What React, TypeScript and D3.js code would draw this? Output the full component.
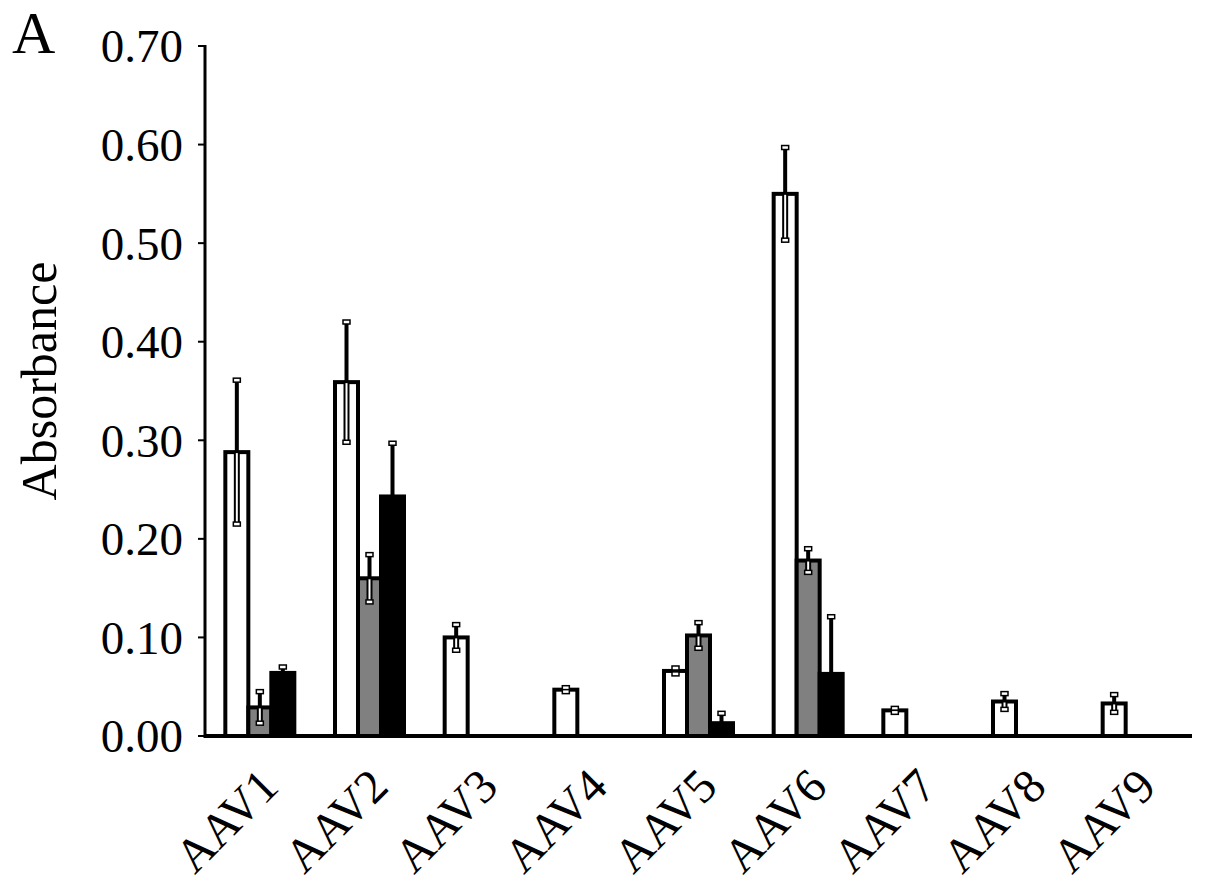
import React from "react";
import * as d3 from "d3";

const categories = ["AAV1", "AAV2", "AAV3", "AAV4", "AAV5", "AAV6", "AAV7", "AAV8", "AAV9"];
const seriesNames = ["white", "gray", "black"];
const whiteValues = [0.288, 0.359, 0.1, 0.047, 0.066, 0.55, 0.026, 0.035, 0.033];
const whiteErrors = [0.073, 0.061, 0.013, 0.002, 0.003, 0.047, 0.002, 0.008, 0.009];
const grayValues: (number | null)[] = [0.029, 0.16, null, null, 0.102, 0.178, null, null, null];
const grayErrors: (number | null)[] = [0.016, 0.024, null, null, 0.013, 0.012, null, null, null];
const blackValues: (number | null)[] = [0.064, 0.243, null, null, 0.013, 0.063, null, null, null];
const blackErrors: (number | null)[] = [0.006, 0.054, null, null, 0.01, 0.058, null, null, null];
const yTicks = [0, 0.1, 0.2, 0.3, 0.4, 0.5, 0.6, 0.7];
const fills = ["#ffffff", "#808080", "#000000"];

const FONT = "'Liberation Serif', 'Times New Roman', serif";

export default function App() {
  const W = 1205, H = 889;
  const left = 205, right = 1192, top = 46, bottom = 736;
  const y = d3.scaleLinear().domain([0, 0.7]).range([bottom, top]);
  const x0 = d3.scaleBand<string>().domain(categories).range([left, right]);
  const bw = x0.bandwidth();
  const x1 = d3.scaleBand<string>().domain(seriesNames).range([bw / 2 - 34.5, bw / 2 + 34.5]);
  const values = [whiteValues, grayValues, blackValues];
  const errors = [whiteErrors, grayErrors, blackErrors];

  const bars: React.ReactNode[] = [];
  const errs: React.ReactNode[] = [];
  categories.forEach((c, i) => {
    seriesNames.forEach((s, k) => {
      const v = values[k][i];
      if (v == null) return;
      const e = errors[k][i] ?? 0;
      const bx = (x0(c) ?? 0) + (x1(s) ?? 0);
      const w = x1.bandwidth();
      bars.push(
        <rect key={`b-${c}-${s}`} x={bx} y={y(v)} width={w} height={y(0) - y(v)}
          fill={fills[k]} stroke="#000" strokeWidth={4} />
      );
      const cx = bx + w / 2;
      const inner = k === 2 ? "#000" : "#fff";
      errs.push(
        <g key={`e-${c}-${s}`}>
          <line x1={cx} x2={cx} y1={y(v)} y2={y(v + e)} stroke="#000" strokeWidth={4} />
          <line x1={cx} x2={cx} y1={y(v)} y2={y(v - e)} stroke="#000" strokeWidth={6} />
          <line x1={cx} x2={cx} y1={y(v) + 1} y2={y(v - e)} stroke={inner} strokeWidth={2} />
          <rect x={cx - 3.5} y={y(v + e) - 2} width={7} height={4} fill="#fff" stroke="#000" strokeWidth={1.5} />
          {k !== 2 && (
            <rect x={cx - 3.5} y={y(v - e) - 2} width={7} height={4} fill="#fff" stroke="#000" strokeWidth={1.5} />
          )}
        </g>
      );
    });
  });

  return (
    <svg width={W} height={H} style={{ position: "absolute", left: 0, top: 0, background: "#fff" }}>
      <rect x={0} y={0} width={W} height={H} fill="#fff" />
      {bars}
      {errs}
      {/* y axis */}
      <line x1={left} x2={left} y1={top - 1} y2={bottom + 2} stroke="#000" strokeWidth={3} />
      {yTicks.map((t) => (
        <g key={`t-${t}`}>
          <line x1={left - 7} x2={left} y1={y(t)} y2={y(t)} stroke="#000" strokeWidth={2} />
          <text x={183} y={y(t)} dy="0.35em" textAnchor="end" fontFamily={FONT} fontSize={47}>
            {t.toFixed(2)}
          </text>
        </g>
      ))}
      {/* x axis */}
      <line x1={left - 1} x2={right} y1={bottom} y2={bottom} stroke="#000" strokeWidth={4} />
      {categories.map((c) => {
        const cx = (x0(c) ?? 0) + bw / 2 + 21;
        const cy = 789;
        return (
          <text key={`l-${c}`} x={0} y={0} textAnchor="end" fontFamily={FONT} fontSize={48}
            transform={`translate(${cx},${cy}) rotate(-45)`}>
            {c}
          </text>
        );
      })}
      <text x={0} y={0} transform={`translate(56, 381) rotate(-90)`} textAnchor="middle"
        fontFamily={FONT} fontSize={50}>
        Absorbance
      </text>
      <text x={12} y={53} fontFamily={FONT} fontSize={60}>A</text>
    </svg>
  );
}
